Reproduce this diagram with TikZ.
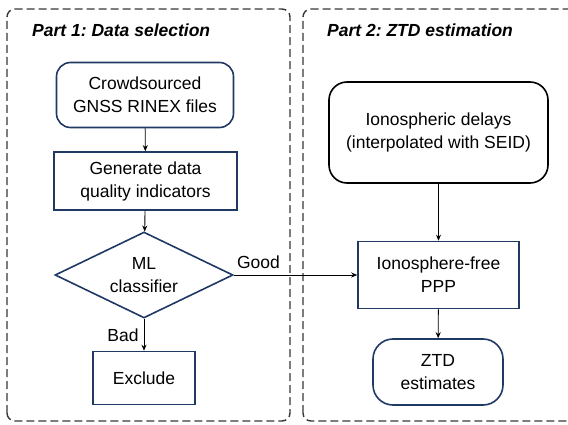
\documentclass[tikz,border=0pt]{standalone}
\usepackage{fontspec}
\setmainfont{Liberation Sans}
\usepackage{tikz}
\usetikzlibrary{shapes.geometric,arrows.meta}
\definecolor{navy}{RGB}{32,56,100}
\definecolor{framegray}{RGB}{55,55,55}
\frenchspacing

\begin{document}
\begin{tikzpicture}[
		x=1pt, y=1pt,
		every node/.style={font=\fontsize{17.5}{23}\selectfont, align=center, inner sep=0pt},
		every edge/.append style={line width=0.9pt},
		box/.style={rectangle, draw=navy, line width=1.6pt},
		roundbox/.style={rectangle, rounded corners=14pt, draw=navy, line width=1.6pt},
		decision/.style={diamond, aspect=2.07, draw=navy, line width=1.6pt},
		frame/.style={draw=framegray, line width=1.4pt, dash pattern=on 8pt off 4pt, rounded corners=8pt},
		title/.style={font=\fontsize{17.5}{23}\selectfont\bfseries\itshape, anchor=west},
		>={Stealth[length=6pt, width=5pt]}
	]
  \clip (0,0) rectangle (568,424);
  \draw[frame] (7,3) rectangle (290,415);
  \draw[frame] (303,3) rectangle (590,415);
  \node (part_1) [title] at (32, 394) {Part 1: Data selection};
  \node (part_2) [title] at (327, 394) {Part 2: ZTD estimation};
  % part 1
  \node (src) [roundbox, minimum width=177pt, minimum height=65pt] at (145, 329) {Crowdsourced\\GNSS RINEX files};
  \node (gen) [box, minimum width=183pt, minimum height=58pt] at (145.5, 243) {Generate data\\quality indicators};
  \node (ml) [decision, minimum width=178pt, minimum height=86pt] at (144, 149) {ML\\classifier};
  \node (excl) [box, minimum width=102pt, minimum height=53pt] at (144, 46) {Exclude};
  % part 2
  \node (ion) [roundbox, draw=black, rounded corners=18pt, minimum width=219pt, minimum height=101pt] at (438.5, 291.5) {Ionospheric delays\\(interpolated with SEID)};
  \node (ppp) [box, minimum width=161pt, minimum height=67pt] at (438.5, 149) {Ionosphere-free\\PPP};
  \node (ztd) [roundbox, rounded corners=20pt, minimum width=130pt, minimum height=66pt] at (438, 52) {ZTD\\estimates};
  \draw (src) edge[->] (gen);
  \draw (gen) edge[->] (ml);
  \draw (ml) edge[->] node[left=5pt] {Bad} (excl);
  \draw (ml) edge[->] node[above=6pt, pos=0.2] {Good} (ppp);
  \draw (ion) edge[->] (ppp);
  \draw (ppp) edge[->] (ztd);
\end{tikzpicture}
\end{document}
